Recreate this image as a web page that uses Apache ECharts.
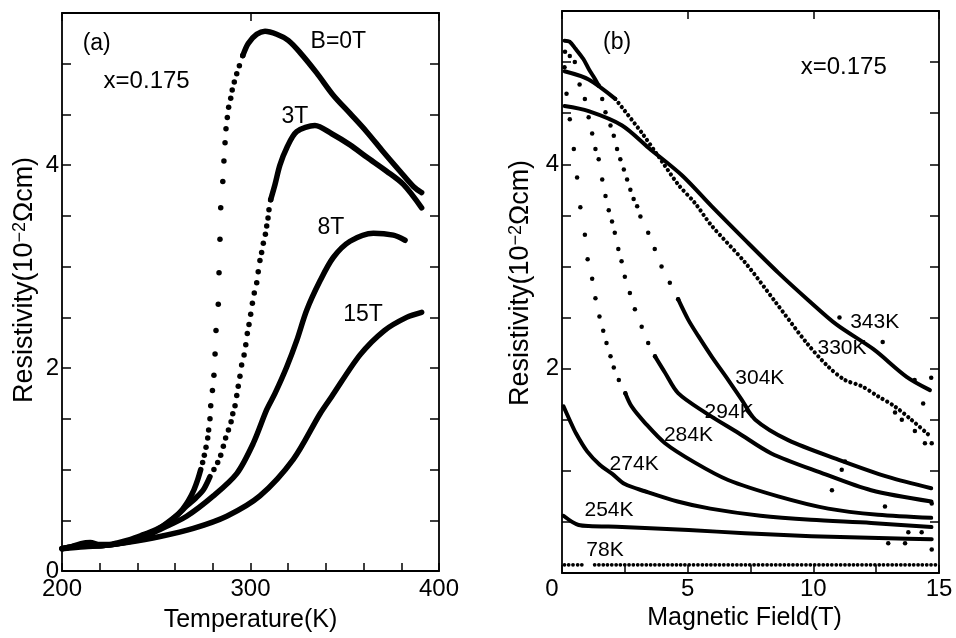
<!DOCTYPE html>
<html><head><meta charset="utf-8">
<script src="https://cdn.jsdelivr.net/npm/echarts@6/dist/echarts.min.js"></script>
<style>html,body{margin:0;padding:0;background:#fff}#c{width:956px;height:638px}</style>
</head><body><div id="c"></div>
<script>
// ---------- tick labels ----------
const aXTickLabels = [200, 300, 400];
const aYTickLabels = [0, 2, 4];
const bXTickLabels = [0, 5, 10, 15];
const bYTickLabels = [2, 4];

// ---------- panel (a): resistivity vs temperature ----------
const a0T_low = [[200,0.22],[205,0.24],[210,0.27],[215,0.28],[220,0.26],[225,0.26],[230,0.28],[236,0.31],[242,0.35],[250,0.41],[256,0.47],[260,0.53],[264,0.61],[267,0.69],[270,0.80],[272,0.90],[273.6,1.00]];
const a0T_dots = [[274.6,1.07],[275.5,1.14],[276.4,1.22],[277.3,1.31],[277.8,1.39],[278.5,1.50],[278.9,1.63],[279.8,1.78],[280.6,1.93],[281.2,2.14],[281.7,2.37],[282.9,2.63],[283.3,2.94],[283.8,3.27],[284.2,3.58],[285.3,3.84],[285.9,4.04],[286.5,4.22],[287.0,4.36],[287.7,4.47],[288.4,4.57],[289.5,4.66],[290.3,4.74],[291.4,4.82],[292.7,4.90],[294.1,4.98],[295.9,5.08]];
const a0T_high = [[295.9,5.08],[298.8,5.20],[303.3,5.29],[307.7,5.32],[313.9,5.29],[320.0,5.23],[326.3,5.11],[335.1,4.91],[343.9,4.69],[352.8,4.51],[361.6,4.33],[370.5,4.13],[379.3,3.94],[386.4,3.79],[390.8,3.73]];

const a3T_low = [[200,0.22],[210,0.25],[220,0.25],[230,0.27],[240,0.32],[250,0.40],[255.5,0.47],[261,0.55],[266.1,0.64],[271,0.72],[275,0.80],[278.5,0.93]];
const a3T_dots = [[280.6,1.00],[282.6,1.07],[284.2,1.14],[285.6,1.23],[286.8,1.31],[288.3,1.39],[289.7,1.47],[290.6,1.55],[291.8,1.63],[292.7,1.73],[293.5,1.82],[294.4,1.92],[295.3,2.03],[296.6,2.13],[297.5,2.23],[298.3,2.34],[299.2,2.43],[300.1,2.53],[301.0,2.64],[302.0,2.74],[303.3,2.84],[304.1,2.95],[305.0,3.06],[305.9,3.14],[306.8,3.23],[307.9,3.32],[308.6,3.40],[309.3,3.48],[309.8,3.56],[310.7,3.66]];
const a3T_high = [[310.7,3.66],[313.0,3.81],[315.6,4.00],[319.2,4.17],[324.5,4.33],[334.2,4.39],[343.1,4.31],[352.8,4.20],[361.6,4.08],[372.2,3.94],[381.1,3.81],[390.8,3.58]];

const a8T = [[200,0.22],[210,0.25],[220,0.25],[230,0.27],[240,0.31],[252,0.41],[266.1,0.54],[280.3,0.74],[292.7,0.96],[301.5,1.26],[308.6,1.59],[313.0,1.75],[319.2,2.01],[324.5,2.27],[329.8,2.57],[336.9,2.86],[343.9,3.09],[352.8,3.25],[365.2,3.33],[375.8,3.31],[382.0,3.26]];

const a15T = [[200,0.22],[212,0.24],[222,0.25],[234.3,0.28],[252,0.34],[269.7,0.42],[287.4,0.54],[305,0.74],[322.7,1.10],[336.9,1.55],[343.1,1.72],[358.1,2.13],[371,2.37],[382.8,2.50],[390.8,2.55]];

// ---------- panel (b): resistivity vs magnetic field ----------
const b343K = [[0.1,4.57],[1.06,4.52],[2.39,4.38],[3.45,4.16],[4.78,3.89],[5.95,3.59],[7.28,3.26],[8.6,2.94],[9.8,2.67],[10.93,2.43],[12.39,2.19],[13.71,1.92],[14.64,1.79]];
const b330K_solid = [[0.1,4.91],[1.06,4.83],[2.12,4.64]];
const b330K_dots = [[2.12,4.64],[3.17,4.31],[3.83,4.08],[4.63,3.80],[5.29,3.62],[5.95,3.40],[7.28,3.04],[8.5,2.65],[9.74,2.25],[10.59,2.02],[11.25,1.89],[11.91,1.83],[12.57,1.73],[13.24,1.63],[13.9,1.50],[14.6,1.35]];
const b304K_hump = [[0.1,5.21],[0.3,5.20],[0.54,5.13],[0.85,5.03],[1.07,4.93],[1.3,4.84],[1.46,4.77]];
const b304K_dots = [[1.46,4.77],[1.60,4.64],[1.73,4.51],[1.93,4.38],[2.06,4.28],[2.19,4.15],[2.32,4.05],[2.46,3.95],[2.59,3.85],[2.72,3.75],[2.85,3.66],[2.99,3.59],[3.12,3.49],[3.43,3.33],[3.69,3.17],[3.96,3.00],[4.29,2.84],[4.62,2.68]];
const b304K_tail = [[4.62,2.68],[5.02,2.48],[5.42,2.32],[5.95,2.12],[6.61,1.89],[7.14,1.70],[7.69,1.50],[9.0,1.30],[10.99,1.11],[12.97,0.94],[14.69,0.83]];
const b294K_dots = [[0.12,5.10],[0.31,5.06],[0.51,5.00],[0.70,4.78],[0.91,4.64],[1.06,4.46],[1.20,4.30],[1.33,4.15],[1.46,4.05],[1.60,3.85],[1.73,3.69],[1.86,3.55],[1.99,3.44],[2.10,3.33],[2.24,3.17],[2.37,3.05],[2.50,2.90],[2.70,2.74],[2.90,2.58],[3.17,2.41],[3.43,2.25],[3.70,2.12]];
const b294K_tail = [[3.70,2.12],[4.10,1.96],[4.62,1.76],[5.70,1.57],[7.02,1.37],[8.33,1.17],[10.32,0.98],[12.3,0.81],[14.7,0.70]];
const b284K_dots = [[0.10,4.95],[0.18,4.69],[0.31,4.44],[0.47,4.15],[0.60,3.87],[0.73,3.58],[0.91,3.31],[1.02,3.07],[1.20,2.88],[1.33,2.69],[1.49,2.51],[1.64,2.37],[1.77,2.25],[1.93,2.12],[2.06,2.01],[2.26,1.89],[2.52,1.76]];
const b284K_tail = [[2.52,1.76],[2.77,1.63],[3.3,1.47],[4.1,1.27],[5.29,1.08],[6.61,0.91],[8.6,0.75],[10.59,0.63],[12.57,0.57],[14.69,0.54]];
const b274K = [[0.06,1.63],[0.3,1.50],[0.55,1.37],[1.0,1.19],[1.5,1.06],[2.0,0.97],[2.5,0.87],[3.3,0.80],[4.6,0.70],[5.9,0.63],[7.9,0.56],[9.9,0.52],[12.3,0.49],[14.7,0.45]];
const b254K = [[0.06,0.56],[0.4,0.50],[0.66,0.47],[1.06,0.46],[2.39,0.45],[3.3,0.44],[5.04,0.42],[7.28,0.39],[9.92,0.36],[12.98,0.34],[14.71,0.33]];
const b78K_a = [[0.1,0.08],[0.9,0.08]];
const b78K_b = [[1.3,0.08],[14.95,0.08]];
const bNoise = [[11.04,2.50],[12.76,2.26],[14.69,1.91],[14.03,1.89],[14.37,1.66],[14.04,1.39],[14.71,1.27],[14.44,1.27],[13.25,1.57],[13.52,1.50],[11.26,1.09],[11.13,1.01],[12.85,0.65],[14.71,0.68],[10.74,0.81],[12.98,0.29],[13.65,0.29],[14.71,0.23],[14.31,0.40],[13.78,0.40]];

// ---------- annotations (text, anchored in data coordinates) ----------
const aNotes = [['(a)',218.4,5.20],['x=0.175',244.9,4.83],['B=0T',346.6,5.22],['3T',323.6,4.48],['8T',342.7,3.38],['15T',359.7,2.53]];
const bNotes = [['(b)',2.19,5.19],['x=0.175',11.21,4.95],['343K',12.44,2.45],['330K',11.14,2.20],['304K',7.87,1.91],['294K',6.65,1.57],['284K',5.03,1.35],['274K',2.87,1.06],['254K',1.87,0.61],['78K',1.71,0.22]];

// ---------- chart ----------
const FONT = '"Liberation Sans", Arial, Helvetica, sans-serif';
const K = '#000';
const chart = echarts.init(document.getElementById('c'), null, {renderer: 'canvas'});

function xAx(grid, min, max, interval, pos, labels, extra) {
  return Object.assign({
    type: 'value', gridIndex: grid, min: min, max: max, interval: interval, position: pos,
    axisLine: {show: true, onZero: false, lineStyle: {color: K, width: 1.8}},
    axisTick: {show: true, inside: true, length: 8, lineStyle: {color: K, width: 1.5}},
    axisLabel: labels ? {show: true, color: K, fontFamily: FONT, fontSize: 24, margin: 6,
      formatter: v => labels.includes(Math.round(v*100)/100) ? String(v) : ''} : {show: false},
    splitLine: {show: false}
  }, extra || {});
}
function yAx(grid, pos, labels, extra) {
  return Object.assign({
    type: 'value', gridIndex: grid, min: 0, max: 5.5, interval: 0.5, position: pos,
    axisLine: {show: true, onZero: false, lineStyle: {color: K, width: 1.8}},
    axisTick: {show: true, inside: true, length: 9, lineStyle: {color: K, width: 1.5}},
    axisLabel: labels ? {show: true, color: K, fontFamily: FONT, fontSize: 24, margin: 3,
      formatter: v => labels.includes(Math.round(v*100)/100) ? String(v) : ''} : {show: false},
    splitLine: {show: false}
  }, extra || {});
}

function lineS(data, xi, yi, w) {
  return {type: 'line', data: data, xAxisIndex: xi, yAxisIndex: yi, smooth: 0.3,
    symbol: 'none', lineStyle: {color: K, width: w, cap: 'round', join: 'round'}, silent: true, z: 3};
}
function beadS(data, xi, yi, w, gap) {
  return {type: 'line', data: data, xAxisIndex: xi, yAxisIndex: yi, smooth: 0.3,
    symbol: 'none', lineStyle: {color: K, width: w, type: [0.01, gap], cap: 'round'}, silent: true, z: 3};
}
function dotS(data, xi, yi, size) {
  return {type: 'scatter', data: data, xAxisIndex: xi, yAxisIndex: yi, symbol: 'circle',
    symbolSize: size, itemStyle: {color: K, opacity: 1}, silent: true, z: 3};
}

function yTitle(x, y) {
  return {type: 'text', x: x, y: y, rotation: Math.PI / 2, silent: true,
    style: {text: '{a|Resistivity(10}{s|−2}{a|Ωcm)}', align: 'center', verticalAlign: 'middle',
      fill: K,
      rich: {a: {fontFamily: FONT, fontSize: 27, fill: K},
             s: {fontFamily: FONT, fontSize: 18, fill: K, verticalAlign: 'top'}}}};
}

const option = {
  animation: false,
  backgroundColor: '#fff',
  grid: [
    {left: 62, top: 13, width: 377, height: 562},
    {left: 562, top: 11, width: 377, height: 562}
  ],
  xAxis: [
    xAx(0, 200, 400, 20, 'bottom', aXTickLabels, {name: 'Temperature(K)', nameLocation: 'middle', nameGap: 37,
      nameTextStyle: {color: K, fontFamily: FONT, fontSize: 25}}),
    xAx(0, 200, 400, 100, 'top', null),
    xAx(1, 0, 15, 2.5, 'bottom', null, {name: 'Magnetic Field(T)', nameLocation: 'middle', nameGap: 23,
      nameTextStyle: {color: K, fontFamily: FONT, fontSize: 25, padding: [0, 12, 0, 0]},
      axisLabel: {show: true, color: K, fontFamily: FONT, fontSize: 24, margin: 4,
        formatter: v => bXTickLabels.includes(v) ? (v === 0 ? '{l|0}' : String(v)) : '',
        rich: {l: {fontFamily: FONT, fontSize: 24, color: K, padding: [0, 20, 0, 0]}}}}),
    xAx(1, 0, 15, 5, 'top', null)
  ],
  yAxis: [
    yAx(0, 'left', aYTickLabels),
    yAx(0, 'right', null),
    yAx(1, 'left', bYTickLabels),
    yAx(1, 'right', null)
  ],
  series: [
    // panel (a)
    lineS(a0T_low, 0, 0, 5.5), dotS(a0T_dots, 0, 0, 5.5), lineS(a0T_high, 0, 0, 5.5),
    lineS(a3T_low, 0, 0, 5.5), dotS(a3T_dots, 0, 0, 5.5), lineS(a3T_high, 0, 0, 5.5),
    lineS(a8T, 0, 0, 5.5),
    lineS(a15T, 0, 0, 5.5),
    // panel (b)
    lineS(b343K, 2, 2, 4),
    lineS(b330K_solid, 2, 2, 4), beadS(b330K_dots, 2, 2, 4.2, 5.2),
    lineS(b304K_hump, 2, 2, 4), dotS(b304K_dots, 2, 2, 4.5), lineS(b304K_tail, 2, 2, 4),
    dotS(b294K_dots, 2, 2, 4.5), lineS(b294K_tail, 2, 2, 4),
    dotS(b284K_dots, 2, 2, 4.5), lineS(b284K_tail, 2, 2, 4),
    lineS(b274K, 2, 2, 4),
    lineS(b254K, 2, 2, 4),
    beadS(b78K_a, 2, 2, 3.8, 4.3), beadS(b78K_b, 2, 2, 3.8, 4.3),
    dotS(bNoise, 2, 2, 4.5)
  ]
};
chart.setOption(option);

// place annotation texts through the axes' own scales
const noteSize = t => (t.indexOf('x=') === 0 ? 24 : (t[0] === '(' || /T$/.test(t)) ? 23 : 21);
const g = [yTitle(25, 280), yTitle(521, 283)];
function addNotes(notes, xi, yi) {
  notes.forEach(n => {
    const p = chart.convertToPixel({xAxisIndex: xi, yAxisIndex: yi}, [n[1], n[2]]);
    g.push({type: 'text', x: p[0], y: p[1], silent: true, z: 10,
      style: {text: n[0], align: 'center', verticalAlign: 'middle', fill: K,
        font: noteSize(n[0]) + 'px ' + FONT}});
  });
}
addNotes(aNotes, 0, 0);
addNotes(bNotes, 2, 2);
chart.setOption({graphic: g});
</script>
</body></html>
